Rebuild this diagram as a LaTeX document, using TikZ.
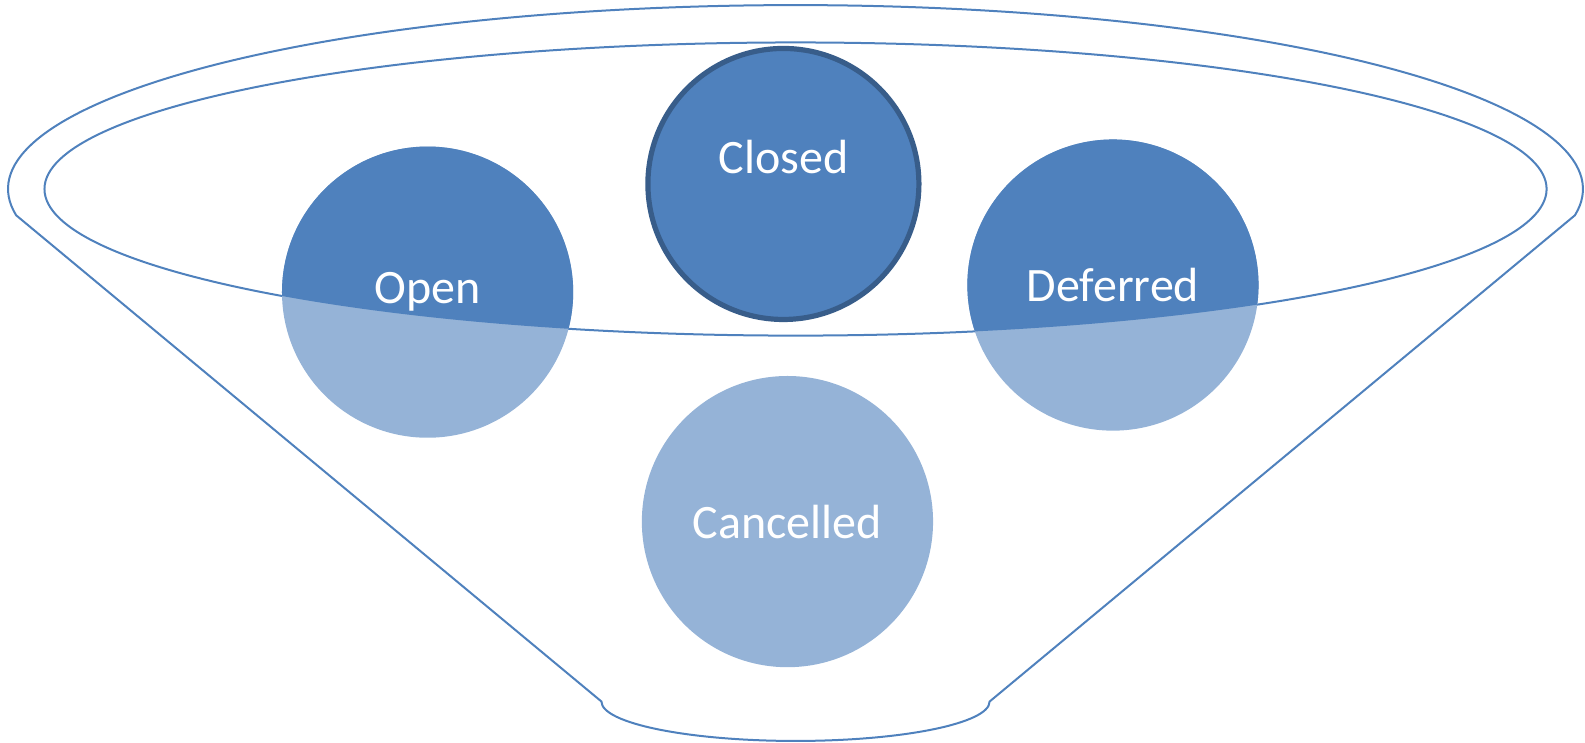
\documentclass[tikz,border=0pt]{standalone}
\usepackage{fontspec}
\setmainfont{Carlito}
\definecolor{dark}{HTML}{4F81BD}
\definecolor{light}{HTML}{95B3D7}
\definecolor{rimline}{HTML}{4F81BD}
\definecolor{border}{HTML}{385D8A}
\begin{document}
\begin{tikzpicture}[x=0.50542pt, y=-0.50542pt,
		state/.style = {circle, inner sep=0pt, minimum size=145.6pt, fill=light, text=white,
			font=\fontsize{24}{27}\selectfont,
			path picture={\fill[dark] (rim) ellipse (743 and 145);}},
		funnel/.style = {draw=rimline, line width=1pt}]
		\useasboundingbox (0,0) rectangle (1568,735);
		\coordinate (rim) at (787,187);
		\coordinate (tl) at (16,213);
		\coordinate (tr) at (1558,213);
		\coordinate (bl) at (595,694);
		\coordinate (br) at (979,694);
		% funnel outline
		\draw[funnel] (tl) arc[start angle=171.8, end angle=368.2, x radius=779, y radius=182]
			-- (br) arc[start angle=0, end angle=180, x radius=192, y radius=39] -- cycle;
		\draw[funnel] (rim) ellipse (743 and 145);
		% states
		\node[state] (open) at (423,289) {Open};
		\node[state] (deferred) at (1101,282) {Deferred};
		\node[state] (cancelled) at (779,516) {Cancelled};
		\node[state, minimum size=135.5pt, fill=dark, draw=border, line width=2.6pt] (closed) at (775,182) {};
		\node[text=white, font=\fontsize{24}{27}\selectfont] (closedlabel) at (775,155) {Closed};
	\end{tikzpicture}
\end{document}
